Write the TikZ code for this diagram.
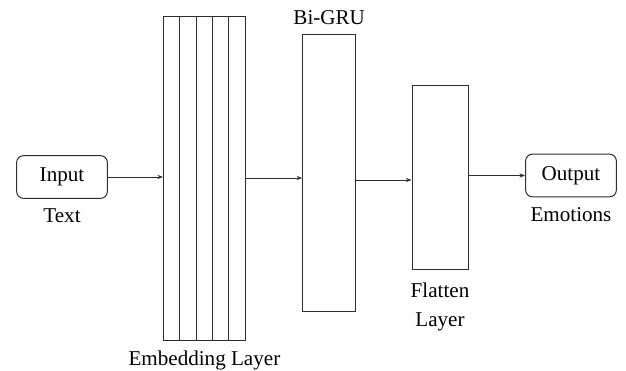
\documentclass[tikz,border=0pt]{standalone}
\usepackage{fontspec}
\setmainfont{Liberation Serif}
\usetikzlibrary{arrows.meta,positioning}
\definecolor{lineink}{RGB}{45,45,45}

\begin{document}
\begin{tikzpicture}[x=0.025cm,y=-0.025cm,>={Stealth[length=4pt,width=3pt]},
  font=\fontsize{15}{21}\selectfont,
  termbox/.style={draw=lineink,line width=0.7pt,rounded corners=5pt,
    minimum width=2.27cm,minimum height=1.07cm,inner sep=0pt},
  layerbox/.style={draw=lineink,line width=0.7pt,inner sep=0pt},
  embcol/.style={layerbox,minimum width=0.409cm,minimum height=8.075cm},
  flow/.style={->,draw=lineink,line width=0.7pt},
  caption/.style={inner sep=1pt,align=center}]

%% ── frame ────────────────────────────────────────────────────────────────────
\useasboundingbox (0,0) rectangle (626,370);

%% ── input ────────────────────────────────────────────────────────────────────
\node[termbox] (input) at (62,177) {Input};
\node[caption,below=6pt of input] (inputlbl) {Text};

%% ── embedding layer (five stacked columns) ───────────────────────────────────
\foreach \i in {1,...,5}
  \node[embcol] (emb\i) at ({163.5+16.36*(\i-0.5)},178.5) {};
\node[caption,below=6pt of emb3] (emblbl) {Embedding Layer};

%% ── Bi-GRU ───────────────────────────────────────────────────────────────────
\node[layerbox,minimum width=1.325cm,minimum height=6.94cm] (bigru) at (329.2,172.9) {};
\node[caption,above=5.4pt of bigru] (bigrulbl) {Bi-GRU};

%% ── flatten ──────────────────────────────────────────────────────────────────
\node[layerbox,minimum width=1.4cm,minimum height=4.6cm] (flatten) at (440,177.3) {};
\node[caption,below=7.8pt of flatten,align=center] (flatlbl) {Flatten\\Layer};

%% ── output ───────────────────────────────────────────────────────────────────
\node[termbox] (output) at (571,175.5) {Output};
\node[caption,below=6pt of output] (outputlbl) {Emotions};

%% ── connectors ───────────────────────────────────────────────────────────────
\draw[flow] (input.east) -- (input.east -| emb1.west);
\draw[flow] (emb5.east |- 0,178) -- (bigru.west |- 0,178);
\draw[flow] (bigru.east |- 0,180) -- (flatten.west |- 0,180);
\draw[flow] (flatten.east |- output.west) -- (output.west);

\end{tikzpicture}
\end{document}
